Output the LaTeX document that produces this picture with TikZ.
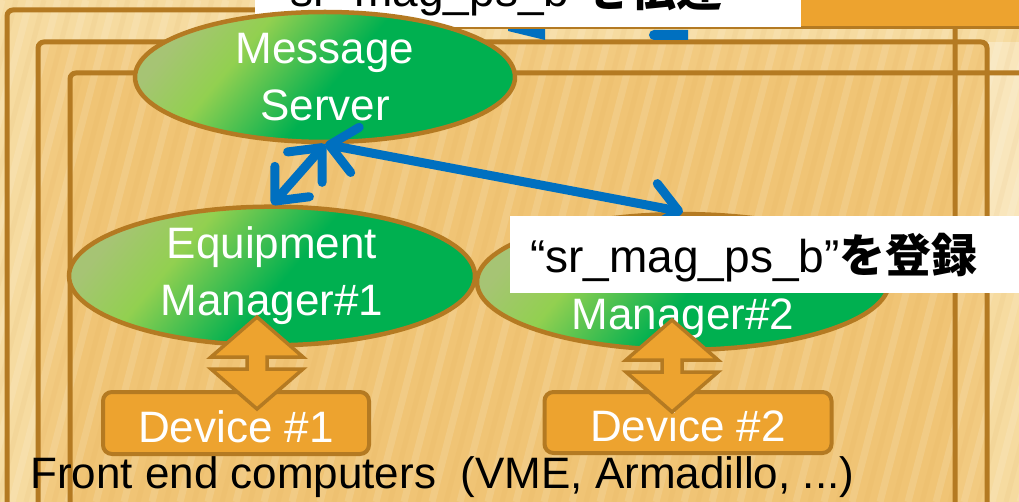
\documentclass[tikz,border=0pt]{standalone}
\usepackage{fontspec}
\setmainfont{Liberation Sans}
\newfontfamily\cjk{Noto Sans CJK JP}
\usetikzlibrary{arrows.meta,shapes.geometric,calc}

\definecolor{woodpale}{HTML}{F6DBA0}
\definecolor{woodmid}{HTML}{F2CA80}
\definecolor{woodin}{HTML}{F0C475}
\definecolor{woodgrain}{HTML}{D9A24A}
\definecolor{woodline}{HTML}{B47A22}
\definecolor{boxorange}{HTML}{EDA32F}
\definecolor{leafpale}{HTML}{A6C474}
\definecolor{leaflight}{HTML}{92D050}
\definecolor{leafdark}{HTML}{00B050}
\definecolor{linkblue}{HTML}{0070C0}

\pgfdeclarehorizontalshading{leaf}{100bp}{color(0bp)=(leafpale); color(24bp)=(leafpale); color(35bp)=(leaflight); color(52bp)=(leafdark); color(100bp)=(leafdark)}

\tikzset{
  frame/.style={draw=woodline, line width=5pt, rounded corners=6pt},
  server/.style={ellipse, draw=woodline, line width=4.5pt, shade, shading=leaf, shading angle=-40,
    inner sep=0pt, text=white, align=center, font=\fontsize{44}{57}\selectfont},
  device/.style={draw=woodline, fill=boxorange, line width=4pt, rounded corners=9pt,
    text=white, font=\fontsize{44}{57}\selectfont, text height=38pt, text depth=0pt, inner sep=0pt},
  note/.style={fill=white, text=black, font=\fontsize{46}{50}\selectfont, inner ysep=0pt, inner xsep=20pt,
    text height=57pt, text depth=20pt, align=left, anchor=base west},
  link/.style={draw=linkblue, line width=9pt, line cap=round,
    {Straight Barb[length=26pt,width=46pt,round]}-{Straight Barb[length=26pt,width=46pt,round]}},
  updown/.style={draw=woodline, fill=boxorange, line width=3.5pt, line join=miter},
  pics/dblarrow/.style={code={
    \path[updown] (0,-46) -- ++(46,40) -- ++(-36,0) -- ++(0,12) -- ++(36,0) -- ++(-46,40)
      -- ++(-46,-40) -- ++(36,0) -- ++(0,-12) -- ++(-36,0) -- cycle;}},
}

\begin{document}
\begin{tikzpicture}[x=1pt, y=-1pt]
\useasboundingbox (0,0) rectangle (1019,502);
\clip (0,0) rectangle (1019,502);

% wooden backdrop
\fill[woodpale] (0,0) rectangle (1019,502);
\fill[woodmid] (38,42) rectangle (987,502);
\fill[woodin] (70,73) rectangle (955,502);
\fill[woodpale!70!white] (987,42) rectangle (1019,260);
\foreach \x in {-240,-212,...,1080} {
  \draw[white, opacity=0.12, line width=7pt] (\x,502) -- ++(130,-502);
  \draw[woodgrain, opacity=0.08, line width=5pt] (\x+14,502) -- ++(130,-502);
}

% nested frames
\draw[frame] (7,10) rectangle (955,540);
\draw[frame] (38,42) rectangle (987,540);
\draw[frame] (70,73) rectangle (1060,540);

% arrow ends running up under the banner
\fill[linkblue] (508,27) -- (545,27) -- (545,40) -- (508,31) -- cycle;
\fill[linkblue] (688,30) -- (654,30) arc[start angle=270, end angle=90, radius=5] -- (688,40) -- cycle;

% banner strip and its label
\filldraw[fill=boxorange, draw=woodline, line width=3pt] (300,-20) rectangle (1040,28);
\node[note, minimum width=546pt, text width=506pt] (lblA) at (255,7)
  {“sr\_mag\_ps\_b”{\cjk\bfseries を伝達}};

% servers and managers
\node[server, minimum width=380pt, minimum height=130pt] (ms) at (325,77) {Message\\Server};
\node[server, minimum width=406pt, minimum height=136pt] (em1) at (272,276) {Equipment\\Manager\#1};
\node[server, minimum width=412pt, minimum height=134pt, text height=96pt, text depth=0pt] (em2) at (683,282) {Manager\#2};

% links to the message server
\draw[link] (ms.south) -- (em1.north);
\draw[link] (ms.south) -- (em2.north);

% devices
\node[device, minimum width=266pt, minimum height=62pt] (dev1) at (236,423) {Device \#1};
\node[device, minimum width=287pt, minimum height=61pt] (dev2) at (688,422.5) {Device \#2};

\pic at (257,363) {dblarrow};
\pic at (672,366) {dblarrow};

% registration label
\node[note, minimum width=546pt, text width=506pt] (lblB) at (510,273)
  {“sr\_mag\_ps\_b”{\cjk\bfseries を登録}};

% caption
\node[anchor=base west, inner sep=0pt, font=\fontsize{44}{50}\selectfont] (fec) at (30,488)
  {Front end computers\ \ (VME, Armadillo, ...)};
\end{tikzpicture}
\end{document}
